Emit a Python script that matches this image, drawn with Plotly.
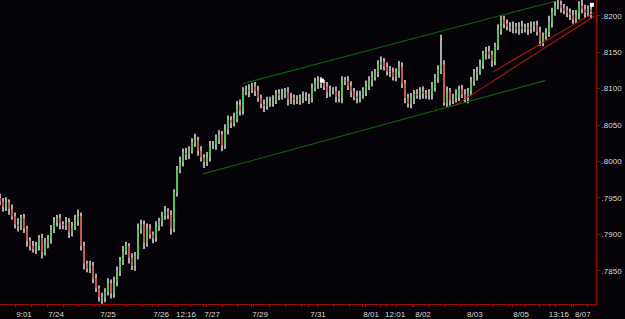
import plotly.graph_objects as go

# ---------------- data (prices in pips, 1 pip = 0.0001) ----------------
first_open_pips = 7950
close_pips = [
    7945, 7938, 7944, 7935, 7925, 7914, 7911, 7922, 7908, 7891,
    7884, 7880, 7884, 7895, 7876, 7887, 7894, 7907, 7917, 7922,
    7914, 7912, 7917, 7903, 7911, 7919, 7925, 7884, 7860, 7853,
    7857, 7840, 7826, 7814, 7813, 7821, 7833, 7819, 7834, 7850,
    7864, 7877, 7884, 7868, 7857, 7871, 7907, 7914, 7888, 7908,
    7900, 7895, 7911, 7918, 7925, 7931, 7927, 7908, 7958, 7989,
    7999, 8012, 8010, 8016, 8026, 8029, 8015, 8006, 7999, 8006,
    8022, 8023, 8030, 8037, 8022, 8043, 8057, 8053, 8060, 8077,
    8070, 8097, 8096, 8100, 8103, 8097, 8087, 8079, 8076, 8081,
    8083, 8084, 8093, 8091, 8092, 8096, 8085, 8087, 8085, 8084,
    8087, 8089, 8088, 8087, 8101, 8107, 8110, 8107, 8103, 8095,
    8097, 8097, 8089, 8087, 8111, 8110, 8104, 8096, 8089, 8087,
    8091, 8097, 8104, 8111, 8116, 8122, 8133, 8137, 8130, 8124,
    8123, 8116, 8123, 8130, 8107, 8087, 8079, 8087, 8093, 8091,
    8096, 8093, 8091, 8093, 8101, 8114, 8127, 8133, 8081, 8096,
    8084, 8087, 8091, 8099, 8092, 8087, 8096, 8110, 8119, 8124,
    8133, 8147, 8151, 8146, 8138, 8158, 8181, 8195, 8189, 8185,
    8184, 8185, 8181, 8185, 8182, 8184, 8182, 8185, 8187, 8178,
    8165, 8172, 8177, 8192, 8205, 8215, 8215, 8211, 8207, 8204,
    8201, 8195, 8203, 8214, 8209, 8204, 8209, 8205,
]
wick_up_pips = [
    6, 5, 7, 4, 6, 5, 8, 5, 6, 4,
    5, 7, 6, 4, 6, 8, 5, 6, 7, 5,
    6, 4, 7, 5, 6, 8, 9, 5, 6, 4,
    7, 5, 6, 4, 6, 5, 7, 5, 8, 6,
    5, 7, 6, 4, 6, 5, 8, 6, 5, 7,
    6, 4, 7, 5, 6, 8, 5, 6, 4, 5,
    8, 6, 7, 5, 6, 9, 5, 6, 4, 7,
    6, 5, 7, 6, 5, 8, 6, 5, 7, 6,
    8, 5, 7, 6, 5, 6, 7, 5, 6, 8,
    6, 7, 5, 6, 8, 5, 6, 7, 5, 6,
    5, 7, 6, 5, 6, 8, 7, 6, 5, 6,
    7, 5, 6, 8, 6, 5, 7, 6, 5, 8,
    6, 5, 7, 6, 8, 5, 6, 7, 5, 6,
    7, 6, 5, 8, 6, 5, 6, 7, 5, 6,
    6, 7, 5, 6, 8, 6, 5, 41, 6, 7,
    5, 6, 8, 5, 6, 7, 5, 6, 8, 6,
    7, 5, 6, 8, 6, 5, 7, 6, 5, 6,
    6, 7, 5, 6, 8, 5, 6, 7, 5, 6,
    7, 5, 6, 8, 6, 5, 7, 6, 5, 6,
    6, 7, 5, 6, 8, 6, 5, 6,
]
wick_dn_pips = [
    5, 7, 6, 8, 5, 6, 7, 5, 6, 8,
    6, 5, 7, 6, 9, 5, 6, 7, 5, 6,
    7, 5, 6, 8, 6, 5, 7, 6, 8, 5,
    6, 7, 5, 6, 8, 6, 5, 7, 6, 5,
    7, 6, 5, 8, 6, 7, 5, 6, 8, 5,
    6, 7, 5, 6, 7, 5, 6, 8, 5, 6,
    5, 6, 8, 7, 5, 6, 7, 6, 8, 5,
    6, 5, 7, 6, 8, 5, 6, 7, 5, 6,
    7, 6, 5, 8, 6, 7, 5, 6, 8, 5,
    6, 8, 5, 7, 6, 5, 8, 6, 7, 5,
    6, 7, 5, 8, 6, 5, 7, 6, 5, 8,
    6, 5, 8, 6, 7, 5, 6, 8, 5, 7,
    6, 5, 7, 6, 8, 5, 6, 7, 5, 6,
    7, 5, 6, 8, 6, 7, 5, 6, 8, 5,
    6, 7, 5, 6, 8, 5, 6, 7, 4, 6,
    7, 5, 6, 8, 5, 6, 7, 5, 6, 8,
    5, 6, 7, 5, 8, 6, 5, 7, 6, 5,
    6, 8, 5, 7, 6, 5, 8, 6, 7, 5,
    6, 7, 5, 6, 8, 5, 6, 7, 5, 6,
    7, 6, 5, 8, 6, 7, 5, 9,
]

# x-axis tick positions (bar index) and labels
x_tick_pos = [5.0, 15.7, 33.0, 50.7, 59.0, 67.7, 83.7, 103.0, 120.7, 128.7, 138.0, 155.3, 170.7, 183.3, 191.3]
x_tick_text = ["9:01", "7/24", "7/25", "7/26", "12:16", "7/27", "7/29", "7/31",
               "8/01", "12:01", "8/02", "8/03", "8/05", "13:16", "8/07"]

# y-axis ticks
y_tick_vals = [0.7850, 0.7900, 0.7950, 0.8000, 0.8050, 0.8100, 0.8150, 0.8200]
y_tick_text = [".7850", ".7900", ".7950", ".8000", ".8050", ".8100", ".8150", ".8200"]

# drawn trend lines: (start index, start price, end index, end price)
channel_upper = [81.0, 0.8107, 185.0, 0.8220]
channel_lower = [67.7, 0.7983, 181.7, 0.8111]
red_line_a = [151.7, 0.8077, 198.3, 0.8200]
red_line_b = [164.3, 0.8123, 198.3, 0.8205]

# white marker points (index, price)
marker_x = [107.3, 197.3]
marker_y = [0.8111, 0.8215]

# ---------------- build ----------------
P = 1e-4
n = len(close_pips)
closes = [c * P for c in close_pips]
opens = [first_open_pips * P] + closes[:-1]
highs = [max(o, c) + u * P for o, c, u in zip(opens, closes, wick_up_pips)]
lows = [min(o, c) - d * P for o, c, d in zip(opens, closes, wick_dn_pips)]
idx = list(range(n))

wx, wy = [], []
for i in idx:
    wx += [i, i, None]
    wy += [lows[i], highs[i], None]

gx, gy, rx, ry = [], [], [], []
for i, o, c in zip(idx, opens, closes):
    lo, hi = min(o, c), max(o, c)
    if hi - lo < 1.0 * P:
        hi = lo + 1.0 * P
    if c >= o:
        gx += [i, i, None]; gy += [lo, hi, None]
    else:
        rx += [i, i, None]; ry += [lo, hi, None]

fig = go.Figure()
fig.add_trace(go.Scatter(x=wx, y=wy, mode="lines",
                         line=dict(color="#bdbdbd", width=1.8), hoverinfo="skip"))
fig.add_trace(go.Scatter(x=gx, y=gy, mode="lines",
                         line=dict(color="#1ed21e", width=1.2), hoverinfo="skip"))
fig.add_trace(go.Scatter(x=rx, y=ry, mode="lines",
                         line=dict(color="#e01c1c", width=1.2), hoverinfo="skip"))

for seg, col in [(channel_upper, "#0b640b"), (channel_lower, "#0b640b"),
                 (red_line_a, "#b81515"), (red_line_b, "#b81515")]:
    fig.add_trace(go.Scatter(x=[seg[0], seg[2]], y=[seg[1], seg[3]], mode="lines",
                             line=dict(color=col, width=1.1), hoverinfo="skip"))

fig.add_trace(go.Scatter(x=marker_x, y=marker_y, mode="markers",
                         marker=dict(color="white", size=4, symbol="square")))

axis_red = "#9a0a0a"
fig.update_layout(
    width=625, height=319,
    margin=dict(l=0, r=29, t=0, b=10),
    paper_bgcolor="#050308", plot_bgcolor="#050308",
    showlegend=False,
    font=dict(family="Liberation Sans", size=8, color="#d8d8d8"),
    xaxis=dict(range=[0, 198.67], showgrid=False, zeroline=False,
               showline=True, linecolor=axis_red, linewidth=1,
               tickmode="array", tickvals=x_tick_pos, ticktext=x_tick_text,
               ticks="outside", ticklen=2, tickcolor=axis_red,
               ticklabelshift=9, ticklabelstandoff=0,
               tickfont=dict(size=8, color="#d8d8d8"),
               minor=dict(tick0=15.7, dtick=5.3, ticks="outside", ticklen=2,
                          tickcolor=axis_red)),
    yaxis=dict(range=[0.78045, 0.82216], side="right", showgrid=False, zeroline=False,
               showline=True, linecolor=axis_red, linewidth=1,
               tickmode="array", tickvals=y_tick_vals, ticktext=y_tick_text,
               ticks="outside", ticklen=3, tickcolor=axis_red,
               ticklabelstandoff=0,
               tickfont=dict(size=8, color="#d8d8d8")),
)

fig.write_html("out.html")
